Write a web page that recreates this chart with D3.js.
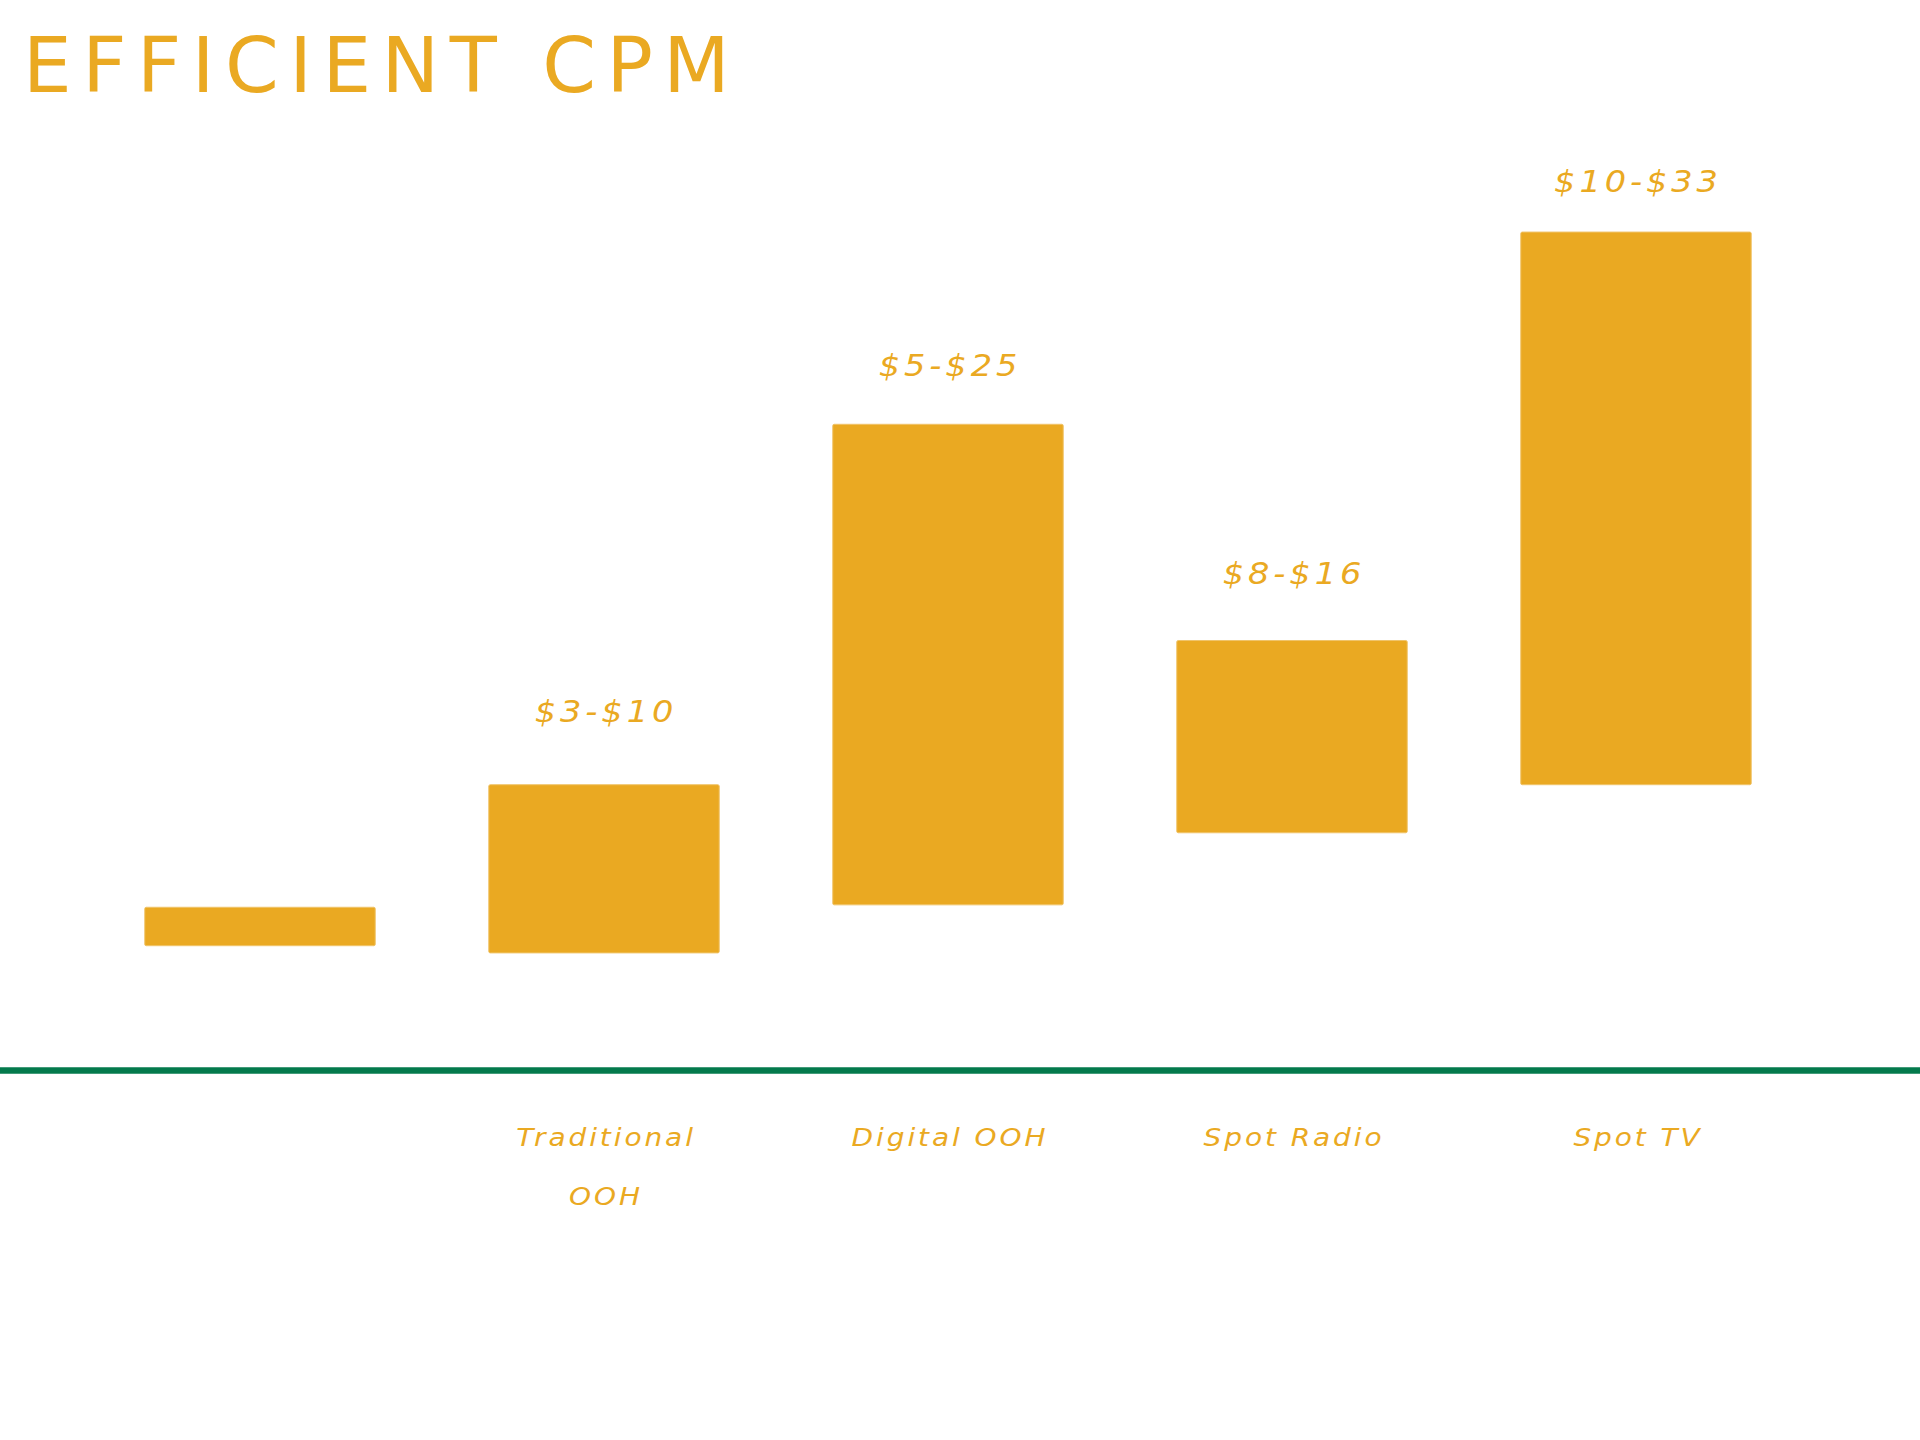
<!DOCTYPE html>
<html>
<head>
<meta charset="utf-8">
<script src="https://cdn.jsdelivr.net/npm/d3@7"></script>
<style>
  html, body { margin: 0; padding: 0; background: #ffffff; }
  svg { display: block; }
</style>
</head>
<body>
<script>
// CPM ranges by media channel (low and high end of each range, in dollars)
const categories = ["Other", "Traditional OOH", "Digital OOH", "Spot Radio", "Spot TV"];
const tickLines = [[], ["Traditional", "OOH"], ["Digital OOH"], ["Spot Radio"], ["Spot TV"]];
const lowValues = [3.3, 3, 5, 8, 10];
const highValues = [4.9, 10, 25, 16, 33];
const rangeLabels = ["", "$3-$10", "$5-$25", "$8-$16", "$10-$33"];

const W = 1920, H = 1440;
const gold = "#eaa922";
const green = "#047a4c";
const wide = 1.12; // horizontal stretch for the italic labels

const rows = categories.map((c, i) => ({
  cat: c, lo: lowValues[i], hi: highValues[i], label: rangeLabels[i], lines: tickLines[i]
}));

const svg = d3.select("body").append("svg")
  .attr("width", W).attr("height", H);

// Title
svg.append("text")
  .attr("x", 23).attr("y", 92)
  .attr("font-family", "DejaVu Sans")
  .attr("font-size", 77)
  .attr("letter-spacing", 10.5)
  .attr("fill", gold)
  .text("EFFICIENT CPM");

const x = d3.scaleBand()
  .domain(categories)
  .range([88, 1808])
  .paddingInner(0.33)
  .paddingOuter(0.165);

// Bar scale
const y = d3.scaleLinear()
  .domain([0, 35])
  .range([1025, 184]);

// Value-label placement scale (labels float above the high end)
const yLabel = d3.scaleLinear()
  .domain([0, 35])
  .range([952, 146]);

const cx = d => x(d.cat) + x.bandwidth() / 2;

// Floating range bars
svg.append("g").selectAll("rect")
  .data(rows)
  .join("rect")
  .attr("x", d => x(d.cat))
  .attr("width", x.bandwidth())
  .attr("y", d => y(d.hi))
  .attr("height", d => y(d.lo) - y(d.hi))
  .attr("rx", 1.5)
  .attr("fill", gold)
  .attr("stroke", "#f0c46a")
  .attr("stroke-width", 1);

// Range labels above each bar
svg.append("g").selectAll("text")
  .data(rows.filter(d => d.label))
  .join("text")
  .attr("transform", d => `translate(${cx(d) + 2},${yLabel(d.hi)}) scale(${wide},1)`)
  .attr("text-anchor", "middle")
  .attr("font-family", "DejaVu Sans")
  .attr("font-style", "italic")
  .attr("font-size", 30)
  .attr("letter-spacing", 3.5)
  .attr("fill", gold)
  .text(d => d.label);

// Baseline
svg.append("line")
  .attr("x1", 0).attr("x2", W)
  .attr("y1", 1070.5).attr("y2", 1070.5)
  .attr("stroke", green)
  .attr("stroke-width", 6.5);

// Category labels below the baseline
const cats = svg.append("g").selectAll("text")
  .data(rows)
  .join("text")
  .attr("transform", d => `translate(${cx(d) + 2},1146) scale(${wide},1)`)
  .attr("text-anchor", "middle")
  .attr("font-family", "DejaVu Sans")
  .attr("font-style", "italic")
  .attr("font-size", 25)
  .attr("letter-spacing", 2.6)
  .attr("fill", gold);

cats.selectAll("tspan")
  .data(d => d.lines.map((t, i) => ({ t, i })))
  .join("tspan")
  .attr("x", 0)
  .attr("dy", d => d.i === 0 ? 0 : 59)
  .text(d => d.t);
</script>
</body>
</html>
